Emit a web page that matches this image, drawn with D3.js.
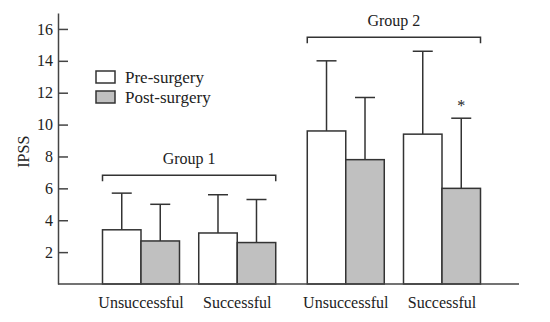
<!DOCTYPE html>
<html>
<head>
<meta charset="utf-8">
<script src="https://d3js.org/d3.v7.min.js"></script>
<style>
    body { margin: 0; background: white; }
    text { font-family: "Liberation Serif", "DejaVu Serif", serif; fill: #222; }
</style>
</head>
<body>
<div id="chart"></div>
<script>
// data
var groups = ["Group 1", "Group 2"];
var categories = ["Unsuccessful", "Successful"];
var seriesNames = ["Pre-surgery", "Post-surgery"];

// mean IPSS, [group][category]
var preMeans  = [[3.4, 3.2], [9.6, 9.4]];
var postMeans = [[2.7, 2.6], [7.8, 6.0]];
// top of error bar (mean + SD)
var preErrTop  = [[5.7, 5.6], [14.0, 14.6]];
var postErrTop = [[5.0, 5.3], [11.7, 10.4]];

var yTicks = [2, 4, 6, 8, 10, 12, 14, 16];
var starAt = {group: 1, category: 1, series: 1};  // the "*" mark

function init() {

    var w = 550;
    var h = 322;

    var svg = d3.select("#chart")
                .append("svg")
                .attr("width", w)
                .attr("height", h);

    var yScale = d3.scaleLinear()
                   .domain([0, 17])
                   .range([284, 13]);

    // groups -> categories -> pre/post
    var xGroup = d3.scaleBand()
                   .domain(groups)
                   .range([102.5, 480.5])
                   .paddingInner(0.154)
                   .paddingOuter(0);

    var xCat = d3.scaleBand()
                 .domain(categories)
                 .range([0, xGroup.bandwidth()])
                 .paddingInner(0.2)
                 .paddingOuter(0);

    var xSeries = d3.scaleBand()
                    .domain(seriesNames)
                    .range([0, xCat.bandwidth()])
                    .padding(0);

    var fills = {"Pre-surgery": "#ffffff", "Post-surgery": "#c0c0c0"};

    // flatten into one record per bar
    var bars = [];
    groups.forEach(function(g, gi) {
        categories.forEach(function(c, ci) {
            bars.push({group: g, category: c, series: seriesNames[0],
                       value: preMeans[gi][ci], err: preErrTop[gi][ci]});
            bars.push({group: g, category: c, series: seriesNames[1],
                       value: postMeans[gi][ci], err: postErrTop[gi][ci]});
        });
    });

    function barX(d) {
        return xGroup(d.group) + xCat(d.category) + xSeries(d.series);
    }

    // error bars first, so the bar covers the stem
    var errs = svg.append("g")
                  .attr("stroke", "#333")
                  .attr("stroke-width", 1.5);

    errs.selectAll("line.stem")
        .data(bars)
        .enter()
        .append("line")
        .attr("class", "stem")
        .attr("x1", function(d) { return barX(d) + xSeries.bandwidth() / 2; })
        .attr("x2", function(d) { return barX(d) + xSeries.bandwidth() / 2; })
        .attr("y1", function(d) { return yScale(d.value); })
        .attr("y2", function(d) { return yScale(d.err); });

    errs.selectAll("line.cap")
        .data(bars)
        .enter()
        .append("line")
        .attr("class", "cap")
        .attr("x1", function(d) { return barX(d) + xSeries.bandwidth() / 2 - 10; })
        .attr("x2", function(d) { return barX(d) + xSeries.bandwidth() / 2 + 10; })
        .attr("y1", function(d) { return yScale(d.err); })
        .attr("y2", function(d) { return yScale(d.err); });

    svg.append("g")
        .selectAll("rect")
        .data(bars)
        .enter()
        .append("rect")
        .attr("x", barX)
        .attr("y", function(d) { return yScale(d.value); })
        .attr("width", xSeries.bandwidth())
        .attr("height", function(d) { return yScale(0) - yScale(d.value); })
        .attr("fill", function(d) { return fills[d.series]; })
        .attr("stroke", "#333")
        .attr("stroke-width", 1.5);

    // y axis, ticks pointing inwards
    var yAxis = d3.axisLeft(yScale)
                  .tickValues(yTicks)
                  .tickSizeInner(-10)
                  .tickSizeOuter(0)
                  .tickPadding(5);

    var gy = svg.append("g")
                .attr("transform", "translate(58,0)")
                .call(yAxis);
    gy.selectAll("path, line")
      .attr("stroke", "#444")
      .attr("stroke-width", 1.5);
    gy.selectAll("text")
      .style("font-family", "Liberation Serif, serif")
      .style("font-size", "16px")
      .attr("fill", "#222");

    // baseline
    svg.append("line")
       .attr("x1", 58)
       .attr("x2", 519)
       .attr("y1", yScale(0))
       .attr("y2", yScale(0))
       .attr("stroke", "#444")
       .attr("stroke-width", 1.5);

    svg.append("text")
       .attr("transform", "translate(29," + yScale(8.3) + ") rotate(-90)")
       .attr("text-anchor", "middle")
       .style("font-size", "16px")
       .text("IPSS");

    // category labels under each pair
    var catLabels = [];
    groups.forEach(function(g) {
        categories.forEach(function(c) { catLabels.push({group: g, category: c}); });
    });
    svg.selectAll("text.cat")
       .data(catLabels)
       .enter()
       .append("text")
       .attr("class", "cat")
       .attr("x", function(d) { return xGroup(d.group) + xCat(d.category) + xCat.bandwidth() / 2; })
       .attr("y", 308)
       .attr("text-anchor", "middle")
       .style("font-size", "16px")
       .text(function(d) { return d.category; });

    // group brackets: above the tallest error bar of each group
    var bracketY = [
        yScale(d3.max(preErrTop[0].concat(postErrTop[0]))) - 18,
        yScale(d3.max(preErrTop[1].concat(postErrTop[1]))) - 14
    ];
    groups.forEach(function(g, gi) {
        var x0 = xGroup(g);
        var x1 = xGroup(g) + xGroup.bandwidth();
        var by = bracketY[gi];
        svg.append("path")
           .attr("d", "M" + x0 + "," + (by + 6) + "V" + by + "H" + x1 + "V" + (by + 6))
           .attr("fill", "none")
           .attr("stroke", "#333")
           .attr("stroke-width", 1.5);
        svg.append("text")
           .attr("x", (x0 + x1) / 2)
           .attr("y", by - 11)
           .attr("text-anchor", "middle")
           .style("font-size", "16px")
           .text(g);
    });

    // significance mark
    var sg = groups[starAt.group], sc = categories[starAt.category], ss = seriesNames[starAt.series];
    svg.append("text")
       .attr("x", xGroup(sg) + xCat(sc) + xSeries(ss) + xSeries.bandwidth() / 2)
       .attr("y", yScale(postErrTop[starAt.group][starAt.category]) - 7)
       .attr("text-anchor", "middle")
       .style("font-size", "16px")
       .text("*");

    // legend
    var legend = svg.append("g")
                    .attr("transform", "translate(96,71)");
    var items = legend.selectAll("g")
                      .data(seriesNames)
                      .enter()
                      .append("g")
                      .attr("transform", function(d, i) { return "translate(0," + (i * 20) + ")"; });
    items.append("rect")
         .attr("width", 19)
         .attr("height", 12)
         .attr("fill", function(d) { return fills[d]; })
         .attr("stroke", "#333")
         .attr("stroke-width", 1.5);
    items.append("text")
         .attr("x", 29)
         .attr("y", 11.5)
         .style("font-size", "17px")
         .text(function(d) { return d; });
}

window.onload = init;
</script>
</body>
</html>
